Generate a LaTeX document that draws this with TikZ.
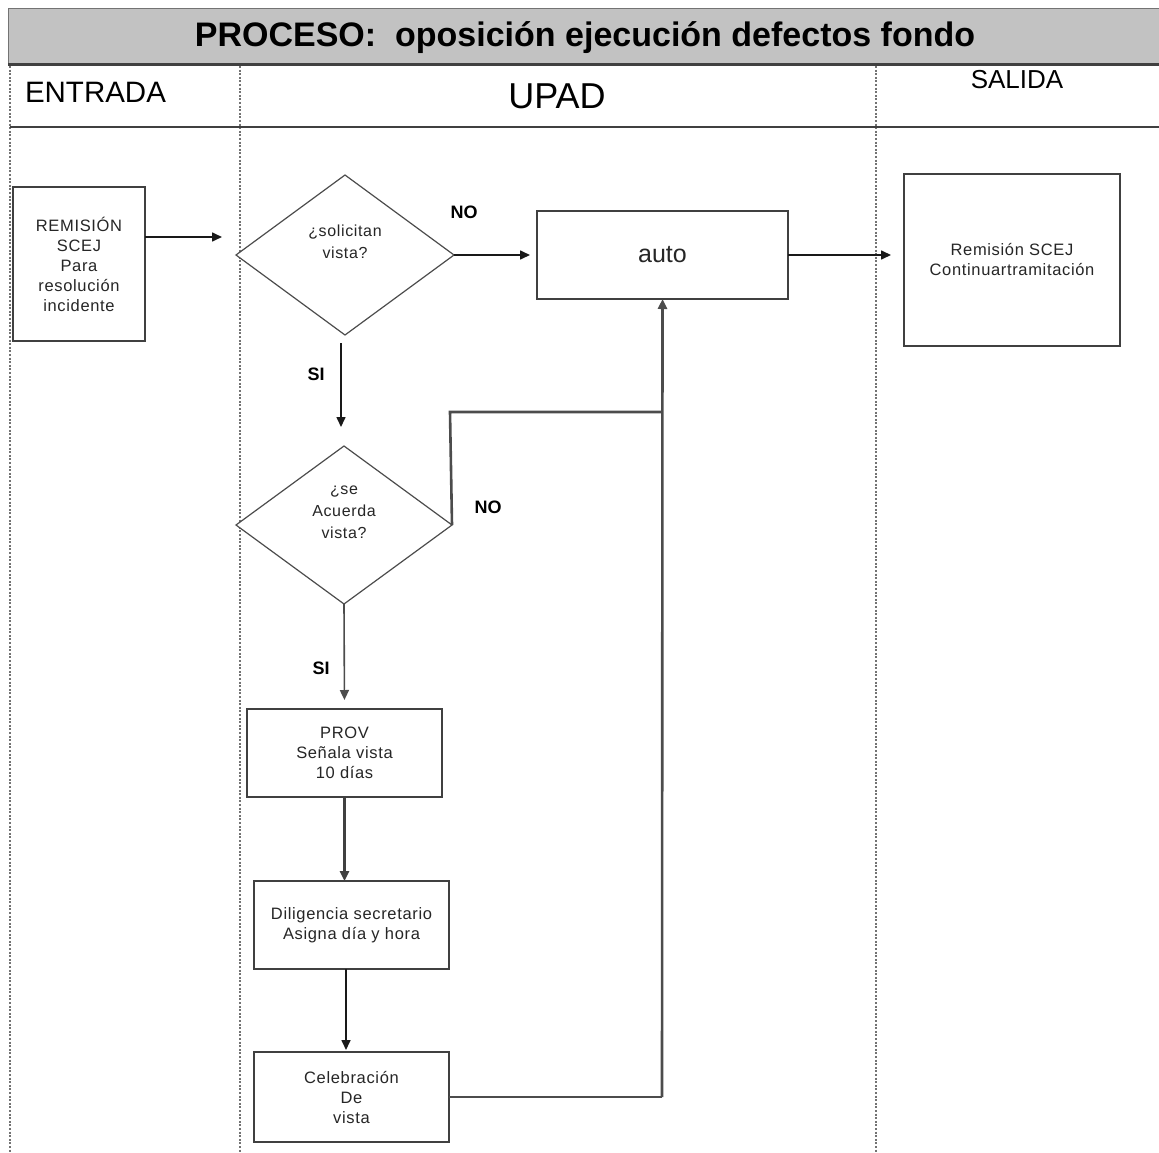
\documentclass[tikz,border=0pt]{standalone}
\usepackage{fontspec}
\setmainfont{Liberation Sans}
\newfontfamily\boxfont[LetterSpace=4]{Liberation Sans}
\usetikzlibrary{arrows.meta,shapes.geometric,calc}

\tikzset{
  every node/.style={inner sep=0pt, outer sep=0pt},
  procbox/.style={draw=black!75, line width=2pt, fill=white, align=center,
    font=\boxfont\fontsize{16.5}{20}\selectfont, text=black!85},
  decision/.style={draw=black!70, line width=1.2pt, fill=white, diamond},
  qtext/.style={align=center, font=\boxfont\fontsize{16}{22}\selectfont, text=black!85},
  flow/.style={line width=1.6pt, draw=black!90, -{Triangle[length=10pt,width=9pt]}},
  heavyflow/.style={line width=2.6pt, draw=black!70},
  lane/.style={draw=black!55, line width=1.4pt, dash pattern=on 2pt off 1.6pt},
  answer/.style={font=\bfseries\fontsize{18}{20}\selectfont},
  lanetitle/.style={font=\fontsize{29.5}{31}\selectfont}
}

\begin{document}
\begin{tikzpicture}[x=1pt, y=-1pt]
  \useasboundingbox (0,0) rectangle (1159,1153);

  % title band
  \fill[black!24] (8,9) rectangle (1159,64);
  \draw[black!55, line width=1pt] (1159,9) -- (8,9) -- (8,64);
  \draw[black!75, line width=3pt] (8,64.5) -- (1159,64.5);
  \node (title) at (585,38) {\bfseries\fontsize{34}{36}\selectfont PROCESO:\ \ oposición ejecución defectos fondo};

  % lane separators
  \draw[lane] (10,66) -- (10,1153);
  \draw[lane] (240,66) -- (240,1153);
  \draw[lane] (876,66) -- (876,1153);
  \draw[black!75, line width=2.5pt] (10,127) -- (1159,127);

  % lane headings
  \node[lanetitle, anchor=west] (hin) at (25,92) {ENTRADA};
  \node[font=\fontsize{36}{38}\selectfont] (hupad) at (557,96) {UPAD};
  \node[font=\fontsize{26}{28}\selectfont] (hout) at (1017,80) {SALIDA};

  % process steps
  \node[procbox, minimum width=132pt, minimum height=154pt] (rem) at (79,264)
    {REMISIÓN\\SCEJ\\Para\\resolución\\incidente};
  \node[decision, minimum width=218pt, minimum height=160pt] (q1) at (345,255) {};
  \node[qtext] (q1txt) at (345,242) {¿solicitan\\vista?};
  \node[procbox, minimum width=251pt, minimum height=88pt,
        font=\fontsize{25}{28}\selectfont] (auto) at (662.5,255) {auto};
  \node[procbox, minimum width=216pt, minimum height=172pt] (out) at (1012,260)
    {Remisión SCEJ\\Continuartramitación};
  \node[decision, minimum width=216pt, minimum height=158pt] (q2) at (344,525) {};
  \node[qtext] (q2txt) at (344,512) {¿se\\Acuerda\\vista?};
  \node[procbox, minimum width=195pt, minimum height=88pt] (prov) at (344.5,753)
    {PROV\\Señala vista\\10 días};
  \node[procbox, minimum width=195pt, minimum height=88pt] (dil) at (351.5,925)
    {Diligencia secretario\\Asigna día y hora};
  \node[procbox, minimum width=195pt, minimum height=90pt] (cel) at (351.5,1097)
    {Celebración\\De\\vista};

  % free ends and bends
  \coordinate (remout) at (145,237);
  \coordinate (q1in) at (222,237);
  \coordinate (siA) at (341,343);
  \coordinate (siAend) at (341,427);
  \coordinate (bendA) at (450,412);
  \coordinate (joinA) at (662,412);
  \coordinate (bendB) at (662,1097);
  \coordinate (dilout) at ($(dil.south)+(-5.5,0)$);

  % connectors
  \draw[flow] (remout) -- (q1in);
  \draw[flow, shorten >=7pt] (q1.east) -- (auto.west);
  \draw[flow, shorten >=13pt] (auto.east) -- (out.west |- auto.east);
  \draw[flow] (siA) -- (siAend);
  \draw[heavyflow] (q2.east) -- (bendA) -- (joinA);
  \draw[flow, draw=black!70, shorten >=9pt] (q2.south) -- (prov.north);
  \draw[flow, line width=2.4pt, draw=black!75] (prov.south) -- (prov.south |- dil.north);
  \draw[flow, shorten >=2pt] (dilout) -- (dilout |- cel.north);
  \draw[heavyflow] (cel.east) -- (bendB);
  \draw[flow, line width=2.6pt, draw=black!70] (bendB) -- (auto.south);

  % answer labels
  \node[answer] (noA) at (464,212) {NO};
  \node[answer] (siAlab) at (316,374) {SI};
  \node[answer] (noB) at (488,507) {NO};
  \node[answer] (siBlab) at (321,668) {SI};
\end{tikzpicture}
\end{document}
